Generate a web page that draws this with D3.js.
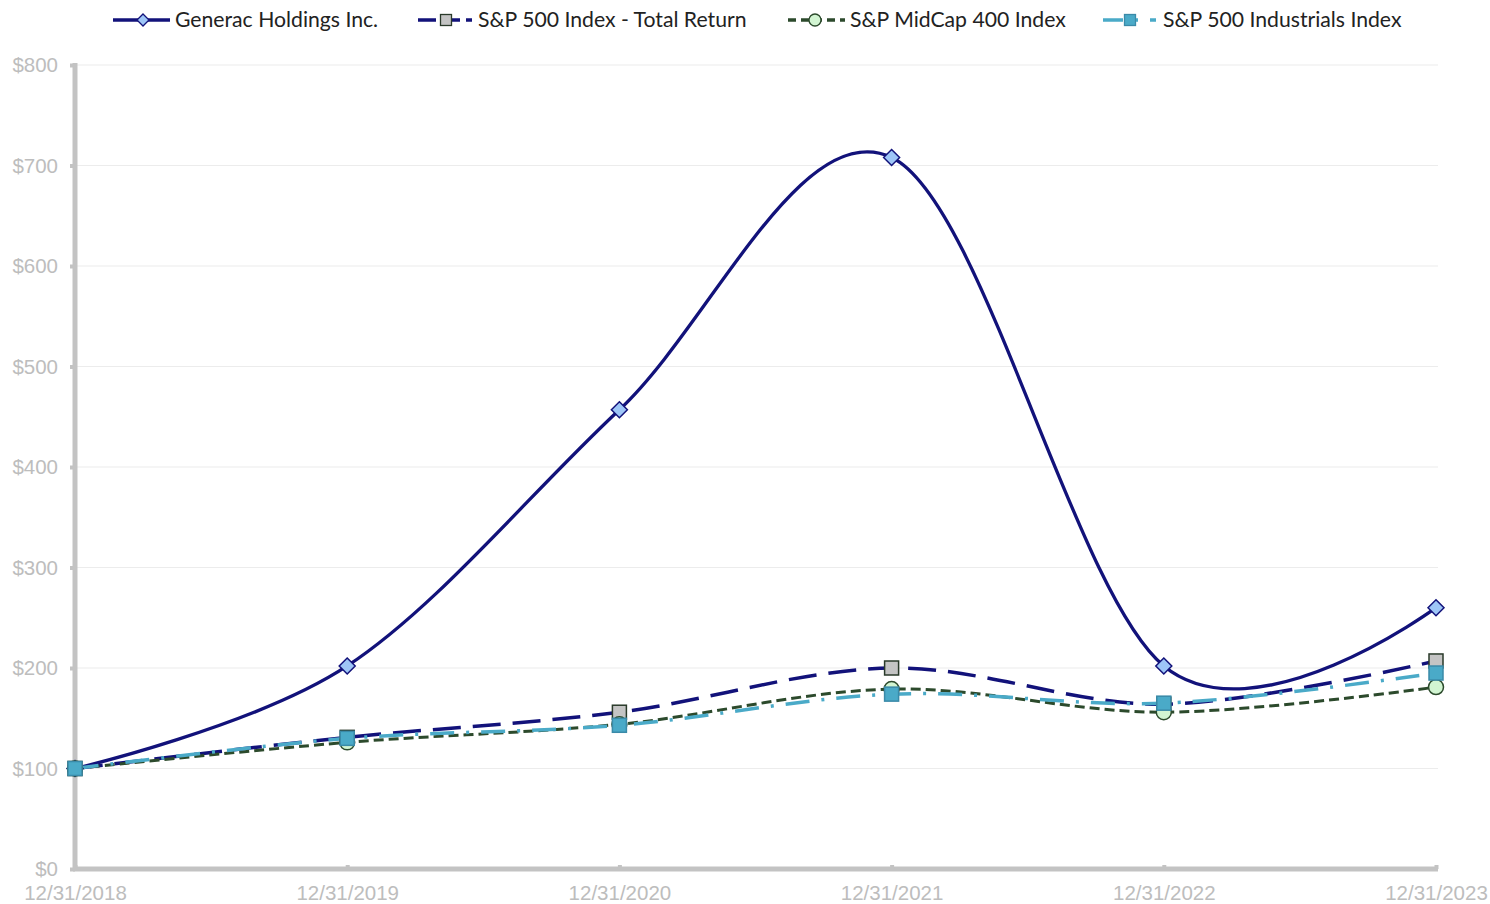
<!DOCTYPE html>
<html>
<head>
<meta charset="utf-8">
<script src="https://cdn.jsdelivr.net/npm/d3@7"></script>
<style>
  html, body { margin: 0; padding: 0; background: #fff; }
  svg { display: block; }
</style>
</head>
<body>
<svg id="chart" width="1490" height="904"></svg>
<script>
const categories = ["12/31/2018", "12/31/2019", "12/31/2020", "12/31/2021", "12/31/2022", "12/31/2023"];
const generac = [100, 202, 457, 708, 202, 260];
const sp500 = [100, 131, 156, 200, 164, 207];
const midcap = [100, 126, 144, 179, 156, 181];
const industrials = [100, 130, 143, 174, 165, 195];
const yTicks = [0, 100, 200, 300, 400, 500, 600, 700, 800];
const seriesNames = ["Generac Holdings Inc.", "S&P 500 Index - Total Return", "S&P MidCap 400 Index", "S&P 500 Industrials Index"];

(function () {
const series = [
  { name: seriesNames[0], values: generac, stroke: "#12127a", width: 3.3, dash: null, marker: "diamond", mfill: "#9ec6f7", mstroke: "#12127a" },
  { name: seriesNames[1], values: sp500, stroke: "#12127a", width: 3.5, dash: "28,12", marker: "square", mfill: "#c4c4c4", mstroke: "#2a3a2a" },
  { name: seriesNames[2], values: midcap, stroke: "#2c4a2c", width: 3, dash: "10,5", marker: "circle", mfill: "#d2f5d2", mstroke: "#2c4a2c" },
  { name: seriesNames[3], values: industrials, stroke: "#4aaac8", width: 3.5, dash: "24,12,3,12", marker: "square", mfill: "#4aaac8", mstroke: "#3a8aa8" }
];

const svg = d3.select("#chart");
const mLeft = 75, mRight = 1436, mTop = 65, mBottom = 869;

const x = d3.scalePoint().domain(categories).range([mLeft, mRight]);
const y = d3.scaleLinear().domain([0, 800]).range([mBottom, mTop]);

// gridlines
svg.append("g").selectAll("line").data(yTicks.filter(d => d > 0)).join("line")
  .attr("x1", mLeft).attr("x2", mRight + 2)
  .attr("y1", d => y(d)).attr("y2", d => y(d))
  .attr("stroke", "#ececec").attr("stroke-width", 1.2);

// y axis
const yAxis = d3.axisLeft(y).tickValues(yTicks).tickFormat(d => "$" + d).tickSize(5).tickPadding(12);
const gy = svg.append("g").attr("transform", `translate(${mLeft},0)`).call(yAxis);
gy.select(".domain").attr("stroke", "#c3c3c3").attr("stroke-width", 5).attr("d", `M0,${mTop - 2}V${mBottom + 2}`);
gy.selectAll(".tick line").attr("stroke", "#c3c3c3").attr("stroke-width", 4);
gy.selectAll(".tick text").attr("fill", "#bdbdbd").style("font-family", "Liberation Sans, Arial, sans-serif").style("font-size", "20.5px");

// x axis
const xAxis = d3.axisBottom(x).tickSize(0).tickPadding(16);
const gx = svg.append("g").attr("transform", `translate(0,${mBottom})`).call(xAxis);
gx.select(".domain").attr("stroke", "#c3c3c3").attr("stroke-width", 5).attr("d", `M${mLeft - 2},0H${mRight + 2}`);
gx.selectAll(".tick").append("line").attr("y1", -4).attr("y2", 0).attr("stroke", "#c3c3c3").attr("stroke-width", 4);
gx.selectAll(".tick text").attr("fill", "#bdbdbd").style("font-family", "Liberation Sans, Arial, sans-serif").style("font-size", "20.5px");

const line = d3.line()
  .x((d, i) => x(categories[i]))
  .y(d => y(d))
  .curve(d3.curveCardinal.tension(0));

function drawMarker(g, type, cx, cy, s) {
  if (type === "diamond") {
    const r = 8;
    g.append("path").attr("d", `M${cx},${cy - r}L${cx + r},${cy}L${cx},${cy + r}L${cx - r},${cy}Z`)
      .attr("fill", s.mfill).attr("stroke", s.mstroke).attr("stroke-width", 1.5);
  } else if (type === "square") {
    const r = 7;
    g.append("rect").attr("x", cx - r).attr("y", cy - r).attr("width", 2 * r).attr("height", 2 * r)
      .attr("fill", s.mfill).attr("stroke", s.mstroke).attr("stroke-width", 1.5);
  } else {
    g.append("circle").attr("cx", cx).attr("cy", cy).attr("r", 7.5)
      .attr("fill", s.mfill).attr("stroke", s.mstroke).attr("stroke-width", 1.5);
  }
}

series.forEach(s => {
  const g = svg.append("g");
  g.append("path").datum(s.values).attr("d", line)
    .attr("fill", "none").attr("stroke", s.stroke).attr("stroke-width", s.width)
    .attr("stroke-dasharray", s.dash);
});
series.forEach(s => {
  const g = svg.append("g");
  s.values.forEach((v, i) => drawMarker(g, s.marker, x(categories[i]), y(v), s));
});

// legend
const legendPos = [
  { x1: 113, x2: 170, mx: 143, tx: 175 },
  { x1: 418, x2: 472, mx: 446, tx: 478 },
  { x1: 788, x2: 845, mx: 815, tx: 850 },
  { x1: 1103, x2: 1156, mx: 1130, tx: 1163 }
];
const legendDash = [null, "18,6", "8,5", "20,12,3,12"];
const lg = svg.append("g");
series.forEach((s, i) => {
  const p = legendPos[i];
  const ly = 20;
  lg.append("line").attr("x1", p.x1).attr("x2", p.x2).attr("y1", ly).attr("y2", ly)
    .attr("stroke", s.stroke).attr("stroke-width", 3.5).attr("stroke-dasharray", legendDash[i]);
  const mg = lg.append("g");
  if (s.marker === "diamond") {
    mg.append("path").attr("d", `M${p.mx},${ly - 6}L${p.mx + 6},${ly}L${p.mx},${ly + 6}L${p.mx - 6},${ly}Z`)
      .attr("fill", s.mfill).attr("stroke", s.mstroke).attr("stroke-width", 1.3);
  } else if (s.marker === "square") {
    mg.append("rect").attr("x", p.mx - 5.5).attr("y", ly - 5.5).attr("width", 11).attr("height", 11)
      .attr("fill", s.mfill).attr("stroke", s.mstroke).attr("stroke-width", 1.3);
  } else {
    mg.append("circle").attr("cx", p.mx).attr("cy", ly).attr("r", 6)
      .attr("fill", s.mfill).attr("stroke", s.mstroke).attr("stroke-width", 1.3);
  }
  lg.append("text").attr("x", p.tx).attr("y", ly).attr("dy", "0.35em")
    .attr("fill", "#222").style("font-family", "Lato, 'Open Sans', sans-serif").style("font-size", "21.2px")
    .text(s.name);
});
})();
</script>
</body>
</html>
